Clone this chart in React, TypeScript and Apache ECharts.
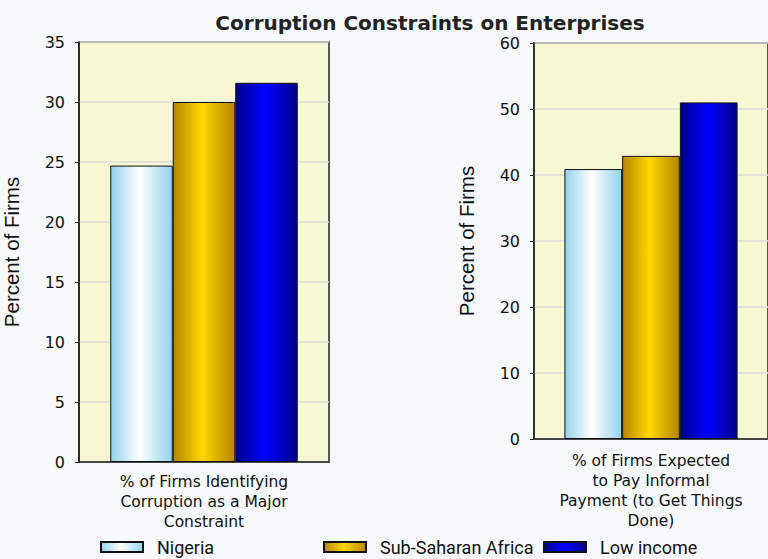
import React, { useEffect, useRef } from "react";
import * as echarts from "echarts";

const seriesNames = ["Nigeria", "Sub-Saharan Africa", "Low income"];
const leftCategories = ["% of Firms Identifying\nCorruption as a Major\nConstraint"];
const rightCategories = ["% of Firms Expected\nto Pay Informal\nPayment (to Get Things\nDone)"];
const leftValues = [24.7, 30.0, 31.6];
const rightValues = [40.9, 42.9, 51.0];
const leftTicks = { min: 0, max: 35, interval: 5 };
const rightTicks = { min: 0, max: 60, interval: 10 };

const grad = (edge: string, mid: string) =>
  new echarts.graphic.LinearGradient(0, 0, 1, 0, [
    { offset: 0, color: edge },
    { offset: 0.47, color: mid },
    { offset: 1, color: edge },
  ]);

export default function App() {
  const ref = useRef<HTMLDivElement>(null);
  useEffect(() => {
    if (!ref.current) return;
    const chart = echarts.init(ref.current, undefined, { renderer: "svg" });
    const fills = [grad("#94d2ec", "#ffffff"), grad("#b68600", "#ffd800"), grad("#00008a", "#0000ff")];
    const axisText = { color: "#111", fontFamily: "DejaVu Sans", fontSize: 16 };
    const catText = {
      color: "#111",
      fontFamily: "DejaVu Sans",
      fontSize: 15.5,
      lineHeight: 20,
      interval: 0,
    };
    const yAxisCommon = {
      type: "value" as const,
      name: "Percent of Firms",
      nameLocation: "middle" as const,
      nameRotate: 90,
      nameTextStyle: { color: "#111", fontFamily: "Liberation Sans", fontSize: 20.5 },
      axisLine: { show: true, lineStyle: { color: "#222", width: 1.5 } },
      axisTick: { show: true, length: 4, lineStyle: { color: "#222" } },
      axisLabel: { ...axisText, margin: 14 },
      splitLine: { show: true, lineStyle: { color: "#dcdcdc", width: 1.5 } },
    };
    const series: any[] = [];
    seriesNames.forEach((name, i) => {
      series.push({
        name,
        type: "bar",
        xAxisIndex: 0,
        yAxisIndex: 0,
        data: [leftValues[i]],
        barGap: "0%",
        barCategoryGap: "25%",
        itemStyle: { color: fills[i], borderColor: "#111", borderWidth: 1 },
      });
    });
    seriesNames.forEach((name, i) => {
      series.push({
        name,
        type: "bar",
        xAxisIndex: 1,
        yAxisIndex: 1,
        data: [rightValues[i]],
        barGap: "0%",
        barCategoryGap: "26%",
        itemStyle: { color: fills[i], borderColor: "#111", borderWidth: 1 },
      });
    });
    const legendLefts = [100, 323, 543];
    chart.setOption({
      animation: false,
      backgroundColor: "#f6fafc",
      title: {
        text: "Corruption Constraints on Enterprises",
        left: 425,
        textAlign: "center",
        top: 8,
        textStyle: { fontFamily: "DejaVu Sans", fontWeight: "bold", fontSize: 20, color: "#222" },
      },
      legend: seriesNames.map((n, i) => ({
        data: [n],
        left: legendLefts[i],
        top: 538,
        padding: 0,
        icon: "rect",
        itemWidth: 42,
        itemHeight: 10,
        textStyle: { fontFamily: "Roboto", fontSize: 18, color: "#111", padding: [0, 0, 0, 9] },
      })),
      grid: [
        { left: 77, top: 42, width: 252, height: 420, show: true, backgroundColor: "#f7f7d3", borderColor: "#222", borderWidth: 1.5 },
        { left: 534, top: 43, width: 236, height: 396, show: true, backgroundColor: "#f7f7d3", borderColor: "#222", borderWidth: 1.5 },
      ],
      xAxis: [
        {
          type: "category",
          gridIndex: 0,
          data: leftCategories,
          axisLine: { lineStyle: { color: "#222", width: 1.5 } },
          axisTick: { show: false },
          axisLabel: { ...catText, margin: 10 },
        },
        {
          type: "category",
          gridIndex: 1,
          data: rightCategories,
          axisLine: { lineStyle: { color: "#222", width: 1.5 } },
          axisTick: { show: false },
          axisLabel: { ...catText, margin: 12 },
        },
      ],
      yAxis: [
        { ...yAxisCommon, gridIndex: 0, ...leftTicks, nameGap: 57 },
        { ...yAxisCommon, gridIndex: 1, ...rightTicks, nameGap: 57 },
      ],
      series,
    });
    return () => chart.dispose();
  }, []);
  return (
    <div
      ref={ref}
      style={{ position: "absolute", left: 0, top: 0, width: 768, height: 559 }}
    />
  );
}
